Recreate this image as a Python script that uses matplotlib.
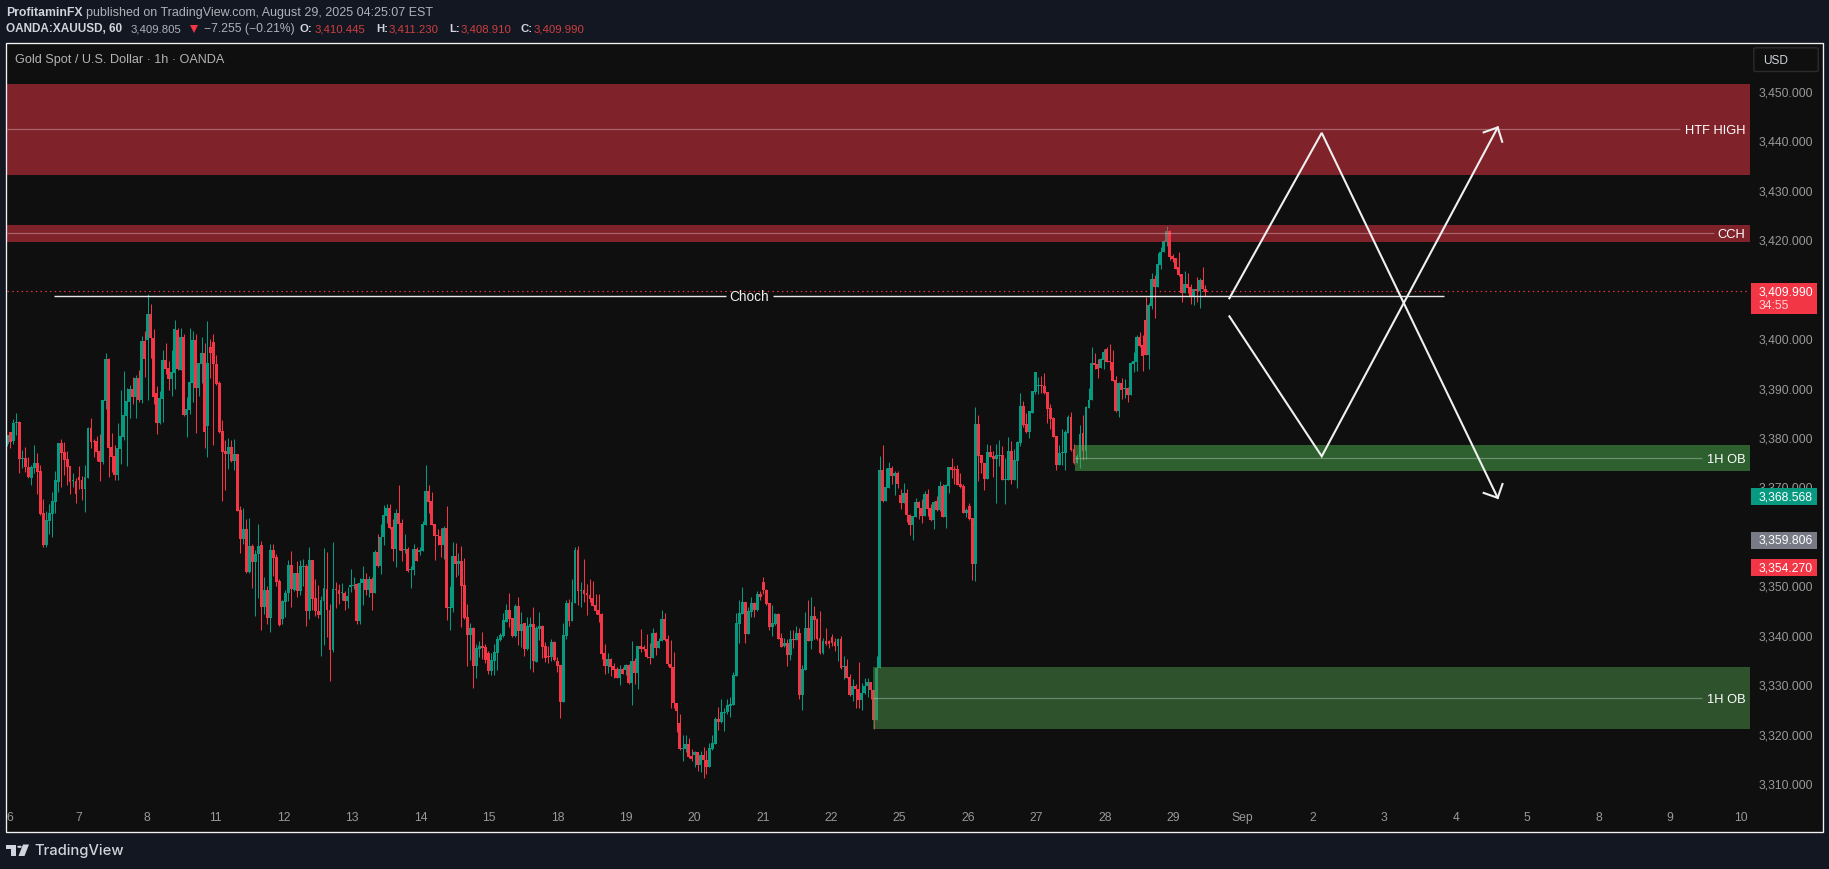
import numpy as np
import matplotlib
matplotlib.use("Agg")
import matplotlib.pyplot as plt
from matplotlib.patches import Rectangle, FancyBboxPatch, Polygon, Circle

# ---------- data ----------
opens = [
3378.8,3381.3,3379.4,3383.1,3383.3,3375.9,3376.0,3374.3,3372.0,3374.0,
3375.0,3373.4,3364.9,3358.5,3363.4,3364.7,3367.2,3371.3,3379.1,3377.3,
3375.9,3374.4,3371.4,3371.4,3372.2,3371.6,3369.8,3372.0,3382.1,3379.4,
3379.4,3377.5,3375.2,3387.6,3396.1,3378.3,3376.5,3372.6,3377.9,3380.3,
3384.5,3387.4,3390.0,3388.4,3392.2,3387.8,3399.7,3399.9,3405.2,3400.3,
3389.2,3383.1,3388.0,3395.9,3394.3,3392.0,3393.2,3401.9,3393.9,3400.5,
3384.8,3385.8,3391.2,3399.9,3390.2,3395.1,3397.3,3382.5,3398.5,3399.5,
3395.1,3391.2,3381.5,3377.5,3376.9,3378.3,3375.4,3376.9,3365.5,3359.7,
3361.7,3353.0,3358.3,3355.0,3356.6,3358.5,3345.9,3349.4,3343.7,3357.4,
3356.0,3351.2,3343.5,3346.9,3348.8,3354.4,3349.4,3352.8,3349.2,3354.0,
3354.2,3345.1,3355.4,3347.7,3345.1,3344.3,3347.1,3349.6,3345.3,3337.2,
3349.6,3349.4,3348.8,3348.8,3347.1,3349.9,3350.2,3350.6,3343.1,3350.8,
3351.6,3349.4,3351.6,3348.8,3357.0,3354.2,3360.1,3364.3,3365.9,3362.1,
3357.7,3364.9,3362.9,3357.4,3357.7,3353.4,3353.4,3357.7,3357.0,3357.3,
3362.5,3369.4,3367.4,3362.7,3360.5,3360.3,3358.5,3361.9,3345.7,3345.7,
3356.2,3354.6,3355.2,3350.4,3343.9,3340.3,3341.7,3334.0,3337.4,3338.0,
3337.8,3336.6,3333.0,3335.0,3336.6,3339.3,3340.1,3342.9,3345.3,3343.7,
3340.1,3346.1,3341.1,3342.7,3337.4,3341.9,3342.5,3334.8,3341.5,3342.1,
3338.0,3336.0,3335.8,3338.9,3335.0,3334.2,3326.7,3340.1,3346.7,3343.1,
3346.7,3357.5,3349.2,3349.4,3348.8,3348.4,3347.7,3346.3,3345.3,3344.5,
3336.6,3334.0,3335.4,3334.0,3333.4,3331.6,3333.4,3333.2,3334.2,3330.5,
3335.0,3332.6,3338.0,3337.8,3337.4,3335.8,3335.6,3340.7,3337.6,3339.0,
3343.5,3339.5,3334.4,3333.8,3326.5,3322.5,3317.2,3317.2,3318.2,3315.8,
3316.0,3316.6,3314.0,3316.0,3315.0,3313.6,3317.2,3318.2,3323.3,3322.7,
3324.5,3324.7,3325.9,3326.1,3332.0,3342.5,3344.5,3346.9,3340.5,3344.9,
3346.7,3345.3,3348.6,3351.0,3349.4,3346.7,3341.9,3342.5,3344.5,3339.7,
3338.0,3338.6,3336.2,3339.5,3339.2,3340.7,3328.1,3333.2,3341.7,3339.1,
3344.1,3343.5,3339.7,3336.6,3339.1,3339.1,3339.9,3338.9,3338.0,3339.5,
3333.8,3334.0,3331.8,3328.1,3329.9,3329.3,3327.1,3328.5,3329.9,3330.8,
3329.1,3323.1,3333.6,3373.6,3367.4,3370.0,3374.0,3372.4,3373.0,3368.6,
3367.0,3369.0,3364.5,3362.5,3364.1,3367.2,3366.0,3364.3,3368.8,3365.9,
3363.5,3367.4,3365.5,3370.4,3364.1,3370.4,3374.2,3373.8,3373.8,3370.8,
3370.4,3364.9,3366.3,3363.9,3354.6,3382.9,3376.7,3375.0,3371.8,3377.3,
3376.5,3375.9,3376.5,3376.7,3371.6,3371.6,3377.5,3371.6,3375.4,3379.1,
3386.6,3382.9,3381.3,3385.2,3389.4,3390.6,3390.8,3390.6,3389.4,3386.2,
3384.1,3380.5,3374.6,3377.1,3377.1,3381.1,3384.3,3377.9,3375.0,3376.3,
3381.1,3377.5,3386.2,3387.8,3395.3,3395.1,3394.3,3395.9,3398.1,3395.7,
3395.5,3391.8,3385.6,3391.2,3390.0,3390.2,3388.8,3395.1,3395.5,3400.5,
3398.9,3404.0,3396.9,3406.8,3412.2,3410.6,3415.1,3417.7,3419.7,3421.9,
3416.9,3416.5,3414.7,3413.3,3409.4,3411.2,3410.6,3408.6,3410.2,3409.8,
3412.0,3410.2]

highs = [
3380.8,3381.3,3383.9,3385.1,3383.5,3377.7,3378.3,3376.3,3374.6,3378.7,
3377.1,3374.6,3367.8,3365.3,3366.8,3369.1,3373.4,3379.1,3379.9,3379.3,
3377.5,3374.4,3373.0,3372.0,3374.4,3372.4,3374.6,3382.3,3384.1,3379.9,
3380.5,3380.9,3387.8,3397.3,3396.3,3381.1,3378.7,3383.1,3389.8,3393.6,
3390.2,3390.8,3392.4,3392.8,3393.9,3400.7,3401.7,3409.2,3407.2,3402.1,
3390.6,3389.6,3397.9,3399.3,3395.7,3397.9,3403.9,3402.3,3402.3,3401.1,
3388.4,3402.3,3401.7,3401.1,3395.3,3400.5,3399.3,3403.8,3400.1,3401.1,
3396.9,3391.6,3383.7,3379.7,3380.1,3379.7,3379.9,3376.9,3366.3,3365.9,
3363.7,3363.9,3358.7,3357.5,3362.7,3359.3,3352.0,3350.2,3358.7,3358.7,
3356.6,3351.6,3347.3,3349.3,3355.4,3357.3,3352.8,3355.2,3355.4,3355.6,
3354.6,3358.0,3355.4,3351.6,3350.4,3348.2,3357.9,3357.0,3346.5,3359.1,
3351.0,3350.6,3350.8,3349.2,3349.9,3353.6,3352.0,3350.8,3351.8,3354.2,
3352.8,3352.2,3352.0,3357.4,3360.7,3362.7,3366.5,3366.8,3366.8,3363.7,
3365.7,3370.6,3363.7,3360.7,3358.1,3354.2,3358.7,3358.1,3358.1,3363.3,
3374.6,3370.6,3369.2,3362.7,3361.7,3361.9,3362.3,3366.3,3350.2,3359.1,
3358.9,3356.8,3358.3,3355.8,3346.5,3342.7,3341.9,3338.4,3339.0,3340.9,
3338.4,3337.0,3336.6,3338.4,3340.1,3340.7,3344.7,3346.5,3348.8,3343.7,
3346.5,3348.0,3344.9,3342.7,3343.9,3343.9,3345.9,3342.1,3344.9,3342.3,
3338.9,3338.0,3339.5,3339.1,3335.8,3334.2,3342.7,3347.3,3347.5,3351.6,
3358.1,3358.3,3351.0,3355.6,3350.6,3351.6,3351.2,3348.6,3348.6,3344.7,
3338.4,3336.6,3335.6,3334.6,3333.8,3334.2,3333.8,3334.4,3334.4,3339.1,
3335.6,3338.0,3341.5,3338.2,3340.5,3338.6,3341.7,3340.9,3339.7,3345.3,
3344.7,3340.3,3339.2,3336.8,3326.5,3324.3,3320.0,3320.0,3319.4,3317.2,
3316.8,3316.6,3316.8,3317.6,3317.0,3318.4,3320.0,3323.7,3325.7,3327.3,
3325.5,3327.3,3327.7,3332.8,3344.7,3347.3,3350.0,3346.9,3345.9,3347.9,
3346.9,3349.2,3349.2,3352.0,3349.6,3346.7,3346.3,3344.7,3344.7,3340.7,
3339.7,3339.5,3341.3,3341.3,3342.1,3341.7,3334.2,3344.9,3347.3,3347.9,
3346.1,3343.7,3345.1,3339.7,3341.7,3339.3,3340.5,3339.7,3339.7,3340.1,
3336.0,3335.4,3332.4,3331.4,3330.4,3334.8,3330.6,3331.6,3331.6,3330.8,
3329.1,3336.0,3376.5,3378.7,3374.0,3375.2,3374.4,3373.4,3373.4,3369.8,
3371.0,3369.8,3364.7,3364.3,3368.0,3367.4,3367.8,3369.4,3369.8,3366.7,
3367.4,3368.4,3371.4,3370.8,3370.8,3374.2,3376.1,3374.4,3374.6,3373.0,
3370.8,3365.9,3367.0,3363.9,3386.4,3384.7,3376.7,3375.0,3378.9,3378.7,
3377.5,3378.9,3379.7,3378.5,3376.1,3380.3,3379.5,3377.9,3379.5,3389.2,
3387.6,3385.1,3385.6,3389.6,3393.4,3392.4,3392.6,3393.2,3389.4,3387.0,
3384.3,3380.5,3378.7,3381.9,3381.7,3384.7,3385.4,3378.9,3376.8,3382.7,
3384.7,3386.6,3390.2,3398.5,3397.3,3396.1,3396.3,3398.1,3398.5,3399.1,
3397.9,3392.6,3391.4,3392.2,3392.0,3390.4,3395.5,3397.5,3400.9,3401.5,
3400.9,3408.6,3407.4,3413.5,3413.1,3417.5,3418.7,3420.1,3423.0,3422.2,
3417.3,3416.5,3417.7,3413.3,3413.9,3413.5,3411.2,3410.2,3412.7,3412.4,
3414.7,3411.0]

lows = [
3378.4,3378.1,3378.9,3380.7,3373.0,3374.0,3373.2,3372.1,3370.6,3373.1,
3368.8,3364.5,3358.1,3358.1,3360.6,3360.1,3364.9,3369.1,3370.1,3372.6,
3370.6,3368.8,3370.2,3367.0,3369.8,3367.6,3365.1,3372.0,3378.1,3376.3,
3375.4,3371.4,3374.8,3386.0,3372.2,3373.2,3371.6,3371.6,3374.8,3379.7,
3374.4,3384.2,3387.0,3384.2,3387.4,3387.2,3392.4,3387.8,3396.3,3387.0,
3380.9,3382.9,3383.3,3393.0,3389.8,3388.6,3390.0,3393.9,3393.9,3384.5,
3380.3,3385.0,3387.4,3381.1,3388.6,3391.2,3378.1,3376.3,3392.2,3378.7,
3390.8,3381.1,3367.4,3369.6,3373.8,3375.3,3373.6,3365.3,3356.9,3358.7,
3352.8,3352.9,3349.8,3344.1,3347.8,3341.3,3344.5,3342.5,3340.9,3352.2,
3350.2,3342.1,3342.5,3343.9,3347.1,3345.9,3349.2,3347.9,3348.4,3350.2,
3342.1,3343.5,3345.3,3344.1,3343.7,3336.0,3338.3,3339.9,3331.0,3336.8,
3345.7,3346.5,3347.3,3345.3,3345.7,3349.0,3349.6,3342.5,3342.5,3346.3,
3348.4,3348.0,3345.3,3348.8,3354.0,3352.6,3358.5,3362.9,3361.7,3355.2,
3354.0,3357.4,3355.2,3356.8,3353.0,3349.8,3352.4,3355.2,3356.4,3357.3,
3362.5,3364.9,3362.5,3355.4,3358.5,3356.0,3355.6,3343.3,3341.3,3344.9,
3352.0,3352.4,3341.9,3343.5,3334.0,3335.2,3329.6,3331.6,3335.8,3335.4,
3334.6,3332.4,3332.2,3332.2,3333.2,3339.1,3339.9,3342.9,3341.9,3339.9,
3339.9,3338.2,3337.8,3336.0,3337.2,3333.4,3332.8,3334.8,3339.3,3335.6,
3334.8,3334.6,3335.0,3335.0,3332.8,3323.5,3326.7,3339.5,3342.1,3343.1,
3346.7,3346.3,3345.9,3346.9,3344.3,3346.9,3346.1,3344.5,3342.9,3335.4,
3332.4,3332.6,3332.0,3331.6,3331.6,3330.2,3332.4,3332.2,3330.4,3326.1,
3330.4,3329.3,3336.8,3337.0,3335.6,3334.4,3335.6,3336.2,3337.6,3339.0,
3339.0,3334.0,3325.5,3325.5,3320.7,3317.0,3314.8,3316.6,3315.4,3314.8,
3313.6,3312.8,3312.6,3311.4,3312.2,3313.6,3317.0,3318.2,3321.1,3322.5,
3320.9,3324.3,3323.7,3326.1,3332.0,3338.7,3344.5,3338.7,3340.5,3343.9,
3343.9,3345.1,3347.3,3348.6,3346.3,3341.3,3340.1,3342.3,3339.5,3337.8,
3337.8,3334.0,3335.2,3337.6,3339.2,3327.3,3325.1,3333.2,3339.1,3337.4,
3339.5,3339.2,3336.4,3336.4,3338.2,3337.6,3338.0,3337.0,3335.0,3333.4,
3331.4,3331.6,3327.9,3326.9,3325.5,3325.5,3325.1,3328.3,3327.7,3327.3,
3321.3,3323.1,3333.6,3367.2,3367.4,3370.0,3370.8,3368.6,3370.0,3365.7,
3367.0,3363.1,3360.5,3359.5,3364.1,3363.7,3362.9,3364.3,3364.3,3363.3,
3361.7,3365.3,3365.3,3364.1,3361.9,3369.0,3372.0,3370.8,3370.6,3370.0,
3364.9,3364.1,3363.5,3351.4,3351.2,3371.4,3373.0,3369.6,3371.8,3376.3,
3372.2,3367.0,3374.4,3371.6,3366.8,3371.6,3370.8,3371.6,3370.0,3378.5,
3382.3,3381.1,3380.1,3385.2,3389.1,3389.0,3389.2,3389.0,3383.1,3381.9,
3380.3,3373.6,3374.6,3374.6,3373.6,3381.1,3377.5,3374.8,3375.0,3374.0,
3375.6,3375.8,3386.2,3387.8,3394.0,3392.2,3394.3,3394.0,3395.5,3393.8,
3391.6,3385.4,3384.3,3388.0,3388.2,3387.4,3388.8,3393.4,3393.6,3398.5,
3393.6,3396.9,3394.0,3406.2,3404.4,3410.6,3414.3,3417.7,3418.9,3416.1,
3415.7,3414.3,3412.9,3407.6,3409.4,3409.4,3407.2,3407.0,3407.6,3406.4,
3410.0,3408.8]

closes = [
3380.8,3379.3,3383.1,3383.3,3375.9,3376.0,3374.3,3372.2,3374.2,3375.0,
3373.3,3364.7,3358.5,3363.5,3364.9,3367.3,3371.6,3379.1,3377.1,3375.7,
3374.2,3371.2,3371.6,3368.8,3371.6,3369.8,3372.2,3382.1,3379.3,3379.2,
3377.3,3375.2,3387.8,3396.1,3378.1,3376.3,3372.6,3378.1,3380.5,3384.8,
3387.6,3390.0,3388.4,3392.2,3387.8,3399.7,3396.1,3405.2,3400.3,3388.4,
3383.1,3388.1,3395.9,3394.1,3392.0,3393.4,3402.1,3394.1,3400.5,3384.8,
3385.9,3391.4,3399.9,3390.2,3395.3,3397.3,3381.3,3395.3,3397.3,3395.0,
3391.0,3381.3,3377.3,3376.9,3378.3,3375.4,3376.9,3365.3,3359.7,3361.7,
3353.0,3358.3,3355.0,3356.6,3358.3,3345.9,3349.4,3343.7,3357.4,3355.8,
3351.0,3342.3,3347.1,3348.8,3354.4,3349.6,3352.8,3349.2,3354.2,3354.2,
3345.1,3355.4,3347.5,3345.1,3344.3,3347.3,3349.8,3345.3,3337.2,3349.6,
3349.3,3348.6,3349.0,3347.1,3348.2,3350.4,3350.4,3343.1,3350.8,3351.6,
3349.4,3351.6,3348.8,3357.0,3354.2,3360.1,3364.5,3365.9,3361.9,3357.7,
3364.9,3362.7,3357.3,3357.7,3353.2,3353.6,3357.7,3355.2,3357.4,3362.7,
3369.4,3367.2,3362.5,3360.3,3360.2,3358.5,3361.9,3345.7,3345.9,3356.2,
3354.6,3355.2,3350.2,3343.7,3340.3,3341.7,3334.0,3337.6,3338.0,3337.6,
3335.2,3333.0,3335.2,3336.8,3339.5,3340.3,3343.3,3345.3,3343.5,3340.1,
3346.1,3341.1,3342.5,3337.4,3342.1,3342.5,3335.0,3341.7,3342.1,3337.8,
3335.6,3335.8,3338.9,3335.2,3334.0,3326.7,3340.3,3346.7,3343.1,3346.9,
3357.5,3349.2,3349.4,3348.6,3348.4,3347.5,3346.1,3345.1,3344.3,3336.4,
3334.0,3335.4,3333.8,3333.2,3331.6,3333.4,3332.4,3334.2,3330.5,3335.0,
3332.6,3338.0,3337.5,3337.4,3335.8,3335.6,3340.7,3337.6,3339.0,3343.5,
3339.2,3334.4,3333.6,3326.6,3324.9,3317.2,3317.4,3318.2,3315.6,3315.2,
3316.6,3314.0,3316.0,3315.0,3313.6,3317.4,3318.4,3323.3,3322.7,3324.7,
3324.7,3326.1,3326.3,3332.2,3342.7,3344.7,3346.9,3340.5,3345.1,3346.7,
3345.3,3348.6,3348.0,3349.4,3346.5,3341.9,3342.7,3344.5,3339.5,3337.8,
3338.6,3336.2,3339.5,3339.2,3340.7,3328.1,3333.4,3341.7,3339.1,3344.1,
3343.3,3339.5,3336.6,3339.1,3338.4,3338.4,3338.6,3338.0,3339.5,3333.6,
3334.0,3331.6,3328.1,3329.9,3329.3,3327.1,3328.5,3329.9,3330.8,3329.1,
3323.1,3333.7,3373.6,3367.4,3370.2,3374.0,3372.4,3373.0,3370.8,3367.0,
3369.0,3364.5,3362.5,3364.3,3367.2,3366.0,3364.3,3368.8,3365.7,3363.5,
3367.2,3365.5,3370.4,3364.1,3370.6,3374.2,3373.6,3373.6,3370.6,3370.2,
3364.9,3365.5,3363.7,3354.6,3382.9,3376.5,3375.0,3371.8,3377.3,3376.3,
3375.9,3376.7,3376.7,3371.6,3371.8,3377.5,3371.6,3375.6,3379.3,3386.6,
3382.7,3381.3,3385.6,3389.6,3393.4,3390.8,3390.6,3389.2,3386.0,3383.9,
3380.3,3374.6,3377.1,3377.3,3381.3,3384.3,3377.7,3375.0,3376.5,3380.9,
3377.5,3386.4,3387.8,3395.3,3394.9,3394.0,3396.1,3397.5,3395.5,3395.5,
3391.6,3385.6,3391.2,3389.8,3390.2,3388.8,3395.3,3395.7,3400.5,3398.7,
3396.7,3396.9,3407.0,3412.2,3410.6,3415.3,3417.7,3419.9,3421.9,3416.7,
3416.3,3414.3,3413.1,3409.4,3411.2,3410.4,3408.6,3410.2,3409.8,3412.0,
3410.2,3409.6]

price_ticks = [3450, 3440, 3430, 3420, 3410, 3400, 3390, 3380, 3370, 3360, 3350, 3340, 3330, 3320, 3310]
day_labels = ['6','7','8','11','12','13','14','15','18','19','20','21','22','25','26','27','28','29','Sep','2','3','4','5','8','9','10']

red_zone_htf = (3433.3, 3451.7, 3442.6)
red_zone_cch = (3419.8, 3423.2, 3421.5)
green_zone_up = (3373.5, 3378.7, 3376.0)
green_zone_low = (3321.3, 3333.8, 3327.5)
choch_price = 3408.75
last_price = 3409.8
price_tags = [('3,368.568', 3368.568, '#089981'), ('3,359.806', 3359.806, '#787b86'), ('3,354.270', 3354.270, '#f23645')]

path_a_x = [409.0, 439.9, 498.8]
path_a_y = [3408.35, 3441.8, 3368.0]
path_a_barb_x = [494.1, 498.8, 500.4]
path_a_barb_y = [3369.0, 3368.0, 3370.8]
path_b_x = [409.0, 439.9, 498.8]
path_b_y = [3404.7, 3376.4, 3442.9]
path_b_barb_x = [494.1, 498.8, 500.3]
path_b_barb_y = [3441.9, 3442.9, 3440.0]

# ---------- layout ----------
W, H = 1829, 870
BAR_PX = 2.988
PX_PER_USD = 4.946
BG_PAGE = '#121722'
BG_PANE = '#0f0f0f'
FONT = ['Liberation Sans', 'DejaVu Sans']
plt.rcParams['font.family'] = FONT

fig = plt.figure(figsize=(W / 100, H / 100), dpi=100, facecolor=BG_PAGE)

def fx(px):
    return px / W

def fy(py):
    return 1 - py / H

def ptext(px, py, s, **kw):
    kw.setdefault('va', 'center')
    kw.setdefault('ha', 'left')
    return fig.text(fx(px), fy(py), s, **kw)

L, R, T, B = 7.0, 1750.0, 44.5, 832.5
ax = fig.add_axes([fx(L), fy(B), (R - L) / W, (B - T) / H], facecolor=BG_PANE)
ax.set_xlim((L - 7.3) / BAR_PX, (R - 7.3) / BAR_PX)
ax.set_ylim(3450 - (B - 93.3) / PX_PER_USD, 3450 + (93.3 - T) / PX_PER_USD)
xmax = ax.get_xlim()[1]
for s in ax.spines.values():
    s.set_visible(False)

fig.add_artist(Rectangle((fx(L), fy(B)), (1822 - L) / W, (B - T) / H, transform=fig.transFigure,
                         facecolor=BG_PANE, edgecolor='none', zorder=-1))

# candles
o, h, l, c = map(np.array, (opens, highs, lows, closes))
x = np.arange(len(o))
up = c >= o
cols = np.where(up, '#089981', '#f23645')
ax.vlines(x, l, h, colors=cols, linewidth=0.75, zorder=2)
ax.bar(x, np.maximum(np.abs(c - o), 0.2), bottom=np.minimum(o, c), width=0.97, color=cols, linewidth=0, zorder=2.1)

# zones
def zone(start, z, color, end_line, label):
    lo, hi, mid = z
    ax.add_patch(Rectangle((start, lo), xmax - start, hi - lo, facecolor=color, alpha=0.5, edgecolor='none', zorder=3))
    ax.plot([start, end_line], [mid, mid], color='white', alpha=0.3, lw=0.9, zorder=3.1, solid_capstyle='butt')
    ax.annotate(label, xy=(1, mid), xycoords=ax.get_yaxis_transform(), xytext=(-3.5, -0.6), textcoords='offset points',
                ha='right', va='center', color='white', fontsize=9.3, zorder=6)

red = '#f23645'
zone(ax.get_xlim()[0], red_zone_htf, red, 559.9, 'HTF HIGH')
zone(ax.get_xlim()[0], red_zone_cch, red, 571.2, 'CCH')
zone(357.3, green_zone_up, '#4caf50', 567.3, '1H OB')
zone(289.8, green_zone_low, '#4b9549', 567.3, '1H OB')

# last price dotted line
ax.axhline(last_price, color='#f23645', lw=0.85, dashes=(1.2, 2.8), zorder=3.5)

# Choch line
ax.plot([15.6, 240.4], [choch_price] * 2, color='#e8e8e8', lw=1.0, zorder=4, solid_capstyle='butt')
ax.plot([256.4, 480.8], [choch_price] * 2, color='#e8e8e8', lw=1.0, zorder=4, solid_capstyle='butt')
ax.text(248.2, choch_price, 'Choch', ha='center', va='center', color='#f0f0f0', fontsize=9.8, zorder=6)

# drawn paths
for px_, py_, bx_, by_ in ((path_a_x, path_a_y, path_a_barb_x, path_a_barb_y),
                           (path_b_x, path_b_y, path_b_barb_x, path_b_barb_y)):
    ax.plot(px_, py_, color='#f0f0f0', lw=1.5, zorder=5, solid_joinstyle='miter')
    ax.plot(bx_, by_, color='#f0f0f0', lw=1.5, zorder=5, solid_joinstyle='miter')

# axes ticks
ax.yaxis.tick_right()
ax.set_yticks(price_ticks)
ax.set_yticklabels([f'{v:,.3f}' for v in price_ticks], color='#999999', fontsize=8.7, va='center')
ax.tick_params(axis='y', length=0, pad=6.5)

tick_pos = []
pos = (10.0 - 7.3) / BAR_PX
for i, lab in enumerate(day_labels):
    tick_pos.append(pos)
    pos += (68.43 if i < 18 else 71.33) / BAR_PX
ax.set_xticks(tick_pos)
ax.set_xticklabels(day_labels, color='#999999', fontsize=8.7)
ax.tick_params(axis='x', length=0, pad=-14.5)

# frame
fig.add_artist(Rectangle((fx(6), fy(833)), (1822.7 - 6) / W, (833 - 43.5) / H, transform=fig.transFigure,
                         facecolor='none', edgecolor='#f2f2f2', lw=0.95, zorder=8))

# price tags
def tag(y0, y1, color):
    fig.add_artist(Rectangle((fx(1751), fy(y1)), (1816.7 - 1751) / W, (y1 - y0) / H, transform=fig.transFigure,
                             facecolor=color, edgecolor='none', zorder=5))

tag(284, 315, '#f23645')
ptext(1759, 292.3, '3,409.990', color='white', fontsize=8.7, zorder=9)
ptext(1759, 306, '34:55', color='#ffd5d8', fontsize=8.7, zorder=9)
for txt, val, col in price_tags:
    yc = 93.3 + (3450 - val) * PX_PER_USD + 1.8
    tag(yc - 8.5, yc + 8.5, col)
    ptext(1759, yc - 0.5, txt, color='white', fontsize=8.7, zorder=9)

# USD button
fig.add_artist(FancyBboxPatch((fx(1756), fy(72)), (1816 - 1756) / W, (72 - 49.3) / H,
                              boxstyle='round,pad=0.0012,rounding_size=0.002', transform=fig.transFigure,
                              facecolor=BG_PANE, edgecolor='#2b2b2b', lw=1.0, zorder=5, mutation_aspect=H / W * 1.0))
ptext(1763, 61.5, 'USD', color='#d1d4dc', fontsize=8.6, zorder=9)

# header
HDR = 9.0
NUM = 8.2
GREY = '#aeb1ba'
LIGHT = '#d1d4dc'
VAL = '#cf3f40'
ptext(6, 12.7, 'ProfitaminFX', color=LIGHT, fontsize=8.8, fontweight='bold')
ptext(85.7, 12.7, 'published on TradingView.com, August 29, 2025 04:25:07 EST', color=GREY, fontsize=HDR)
ptext(6, 29.3, 'OANDA:XAUUSD, 60', color=LIGHT, fontsize=8.5, fontweight='bold')
ptext(130.4, 29.3, '3,409.805', color=GREY, fontsize=NUM)
fig.add_artist(Polygon([(fx(190), fy(26)), (fx(198), fy(26)), (fx(194), fy(34))], closed=True,
                       transform=fig.transFigure, facecolor='#f23645', edgecolor='none'))
ptext(203.6, 29.3, '\u22127.255 (\u22120.21%)', color=GREY, fontsize=8.7)
for px_lab, lab, px_val, val in ((300, 'O:', 314.7, '3,410.445'), (376, 'H:', 388.4, '3,411.230'),
                                 (449.6, 'L:', 460.7, '3,408.910'), (520.5, 'C:', 533.5, '3,409.990')):
    ptext(px_lab, 29.3, lab, color=LIGHT, fontsize=NUM, fontweight='bold')
    ptext(px_val, 29.3, val, color=VAL, fontsize=NUM)

ptext(15, 60.5, 'Gold Spot / U.S. Dollar \u00b7 1h \u00b7 OANDA', color='#b4b4b4', fontsize=9.1, zorder=9)

# logo
def poly(pts, col='#d1d4dc'):
    fig.add_artist(Polygon([(fx(a), fy(b)) for a, b in pts], closed=True, transform=fig.transFigure,
                           facecolor=col, edgecolor='none'))

poly([(6, 845.5), (15.5, 845.5), (15.5, 857), (10.5, 857), (10.5, 850), (6, 850)])
poly([(23, 845.5), (29, 845.5), (24.5, 857), (18.5, 857)])
fig.add_artist(Circle((fx(19.5), fy(847.8)), 2.3 / W, transform=fig.transFigure, facecolor='#d1d4dc', edgecolor='none'))
ptext(34, 851, 'TradingView', color='#d1d4dc', fontsize=10.6, family=['Inter', 'DejaVu Sans'], fontweight='medium')

fig.savefig('out.png', dpi=100, facecolor=BG_PAGE)
